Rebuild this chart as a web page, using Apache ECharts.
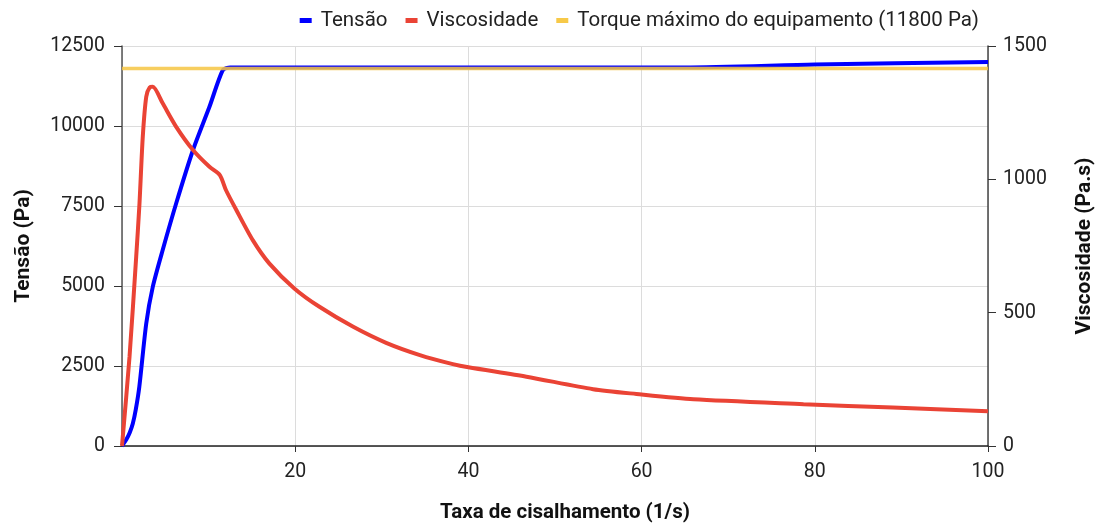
<!DOCTYPE html>
<html>
<head>
<meta charset="utf-8">
<script src="https://cdn.jsdelivr.net/npm/echarts@6/dist/echarts.min.js"></script>
<style>
  html, body { margin: 0; padding: 0; background: #fff; }
  #chart { width: 1097px; height: 524px; }
</style>
</head>
<body>
<div id="chart"></div>
<script>
// Tensão (Pa) vs taxa de cisalhamento
const tensaoX = [0, 0.5, 0.9, 1.25, 1.6, 2.0, 2.8, 3.56, 4.7, 6.26, 8.2, 10.1, 11.65, 12.5, 20, 40, 60, 65, 80, 100]
const tensaoY = [0, 200, 420, 700, 1150, 1850, 3830, 4980, 6125, 7585, 9250, 10600, 11750, 11830, 11830, 11830, 11830, 11830, 11920, 12000]

// Viscosidade (Pa.s)
const viscX = [0, 0.87, 1.64, 2.02, 2.4, 2.8, 3.2, 3.56, 4.7, 6.26, 8.2, 10.1, 11.3, 12.0, 13.2, 15.1, 17.0, 19.9, 22.8, 26.7, 30.5, 34.4, 38.2, 40, 46.7, 54.4, 59.4, 66, 78.7, 89, 100]
const viscY = [0, 335, 710, 910, 1160, 1310, 1345, 1347, 1285, 1197, 1110, 1047, 1016, 960, 885, 772, 685, 591, 522, 447, 387, 341, 307, 295, 260, 213, 195, 175, 157, 144, 130]

// limite do equipamento
const torqueX = [0, 100]
const torqueY = [11800, 11800]

const pairs = (xs, ys) => xs.map((x, i) => [x, ys[i]])

const chart = echarts.init(document.getElementById('chart'))
const font = 'Roboto, "Noto Sans", sans-serif'
const plain = v => String(v)

chart.setOption({
  animation: false,
  textStyle: { fontFamily: font },
  legend: {
    top: 5,
    right: 113,
    itemWidth: 12,
    itemHeight: 5,
    itemGap: 18,
    icon: 'rect',
    textStyle: { fontSize: 20.5, color: '#222', fontFamily: font, padding: [0, 0, 0, 4] },
    data: ['Tensão', 'Viscosidade', 'Torque máximo do equipamento (11800 Pa)']
  },
  grid: { left: 122, right: 109, top: 46, bottom: 78, outerBoundsMode: 'none', containLabel: false },
  xAxis: {
    type: 'value',
    min: 0,
    max: 100,
    interval: 20,
    name: 'Taxa de cisalhamento (1/s)',
    nameLocation: 'middle',
    nameGap: 56,
    nameTextStyle: { fontSize: 20.5, fontWeight: 'bold', color: '#111', padding: [0, 0, 0, 20] },
    axisLine: { lineStyle: { color: '#222', width: 1.5 } },
    axisTick: { show: true, length: 6, lineStyle: { color: '#333' } },
    axisLabel: { fontSize: 19.5, color: '#222', margin: 16, showMinLabel: false, formatter: plain },
    splitLine: { show: true, lineStyle: { color: '#dcdcdc' } }
  },
  yAxis: [
    {
      type: 'value',
      min: 0,
      max: 12500,
      interval: 2500,
      name: 'Tensão (Pa)',
      nameLocation: 'middle',
      nameGap: 88,
      nameTextStyle: { fontSize: 21, fontWeight: 'bold', color: '#111' },
      axisLine: { show: true, lineStyle: { color: '#555', width: 1.5 } },
      axisTick: { show: true, length: 8, lineStyle: { color: '#333' } },
      axisLabel: { fontSize: 19.5, color: '#222', margin: 17, formatter: plain },
      splitLine: { show: true, lineStyle: { color: '#dcdcdc' } }
    },
    {
      type: 'value',
      min: 0,
      max: 1500,
      interval: 500,
      name: 'Viscosidade (Pa.s)',
      nameLocation: 'middle',
      nameGap: 86,
      nameTextStyle: { fontSize: 21, fontWeight: 'bold', color: '#111' },
      axisLine: { show: true, lineStyle: { color: '#444', width: 1.5 } },
      axisTick: { show: true, length: 8, lineStyle: { color: '#333' } },
      axisLabel: { fontSize: 19.5, color: '#222', margin: 15, formatter: plain },
      splitLine: { show: false }
    }
  ],
  series: [
    {
      name: 'Tensão',
      type: 'line',
      yAxisIndex: 0,
      data: pairs(tensaoX, tensaoY),
      smooth: 0.25,
      showSymbol: false,
      color: '#0000ff',
      lineStyle: { width: 4, color: '#0000ff' },
      z: 2
    },
    {
      name: 'Viscosidade',
      type: 'line',
      yAxisIndex: 1,
      data: pairs(viscX, viscY),
      smooth: 0.25,
      showSymbol: false,
      color: '#ea4335',
      lineStyle: { width: 4, color: '#ea4335' },
      z: 3
    },
    {
      name: 'Torque máximo do equipamento (11800 Pa)',
      type: 'line',
      yAxisIndex: 0,
      data: pairs(torqueX, torqueY),
      showSymbol: false,
      color: '#f7c948',
      lineStyle: { width: 3.5, color: '#f6c543', opacity: 0.85 },
      z: 4
    }
  ]
})
window.onresize = function() {
  chart.resize()
}
</script>
</body>
</html>
